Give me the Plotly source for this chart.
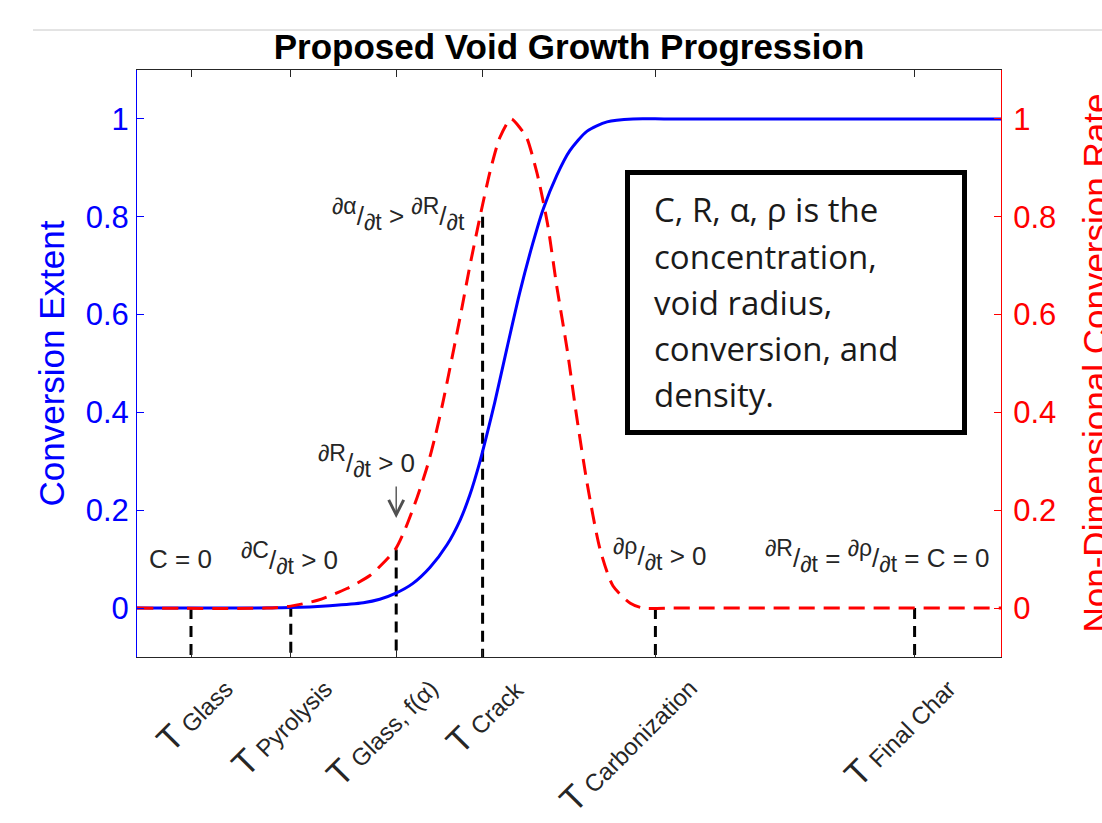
import plotly.graph_objects as go

# ---------------- data ----------------
# Conversion extent (blue, left axis)
x_extent = [0, 10, 17.8, 22.3, 26.2, 28.1, 29.9, 31.9, 33.9, 35.9, 37.4, 38.5, 39.7, 40.5,
            41.4, 42.8, 44.3, 45.8, 47.0, 48.6, 50.1, 52.1, 54.4, 57.4, 61, 66, 100]
y_extent = [0, 0, 0.001, 0.005, 0.011, 0.018, 0.03, 0.05, 0.083, 0.13, 0.18, 0.23, 0.30,
            0.355, 0.42, 0.53, 0.645, 0.745, 0.815, 0.885, 0.935, 0.975, 0.994, 1.0, 1.0,
            1.0, 1.0]

# Non-dimensional conversion rate (red dashed, right axis)
x_rate = [0, 15, 17.8, 20.9, 24.3, 27.0, 28.1, 29.9, 31.0, 32.4, 33.6, 34.5, 35.4, 37.4,
          38.5, 39.7, 40.9, 42.0, 43.3, 44.4, 45.1, 46.3, 47.5, 48.6, 49.8, 50.9, 52.1,
          53.6, 55.1, 57.1, 58.6, 62, 66, 100]
y_rate = [0, 0, 0.004, 0.016, 0.04, 0.067, 0.085, 0.12, 0.16, 0.225, 0.29, 0.35, 0.42,
          0.595, 0.697, 0.80, 0.895, 0.962, 1.0, 0.98, 0.962, 0.889, 0.787, 0.656, 0.527,
          0.39, 0.255, 0.12, 0.045, 0.01, 0.0, 0.0, 0.0, 0.0]

# Temperature markers (black dashed drop lines) and their labels
marker_x = [6.25, 17.8, 30.0, 40.0, 60.0, 90.0]
marker_top = [0.0, 0.005, 0.12, 0.8, 0.0, 0.0]
marker_labels = ["Glass", "Pyrolysis", "Glass, f(α)", "Crack", "Carbonization", "Final Char"]

y_ticks = [0, 0.2, 0.4, 0.6, 0.8, 1]
y_tick_text = ["0", "0.2", "0.4", "0.6", "0.8", "1"]

box_lines = ["C, R, α, ρ is the", "concentration,", "void radius,",
             "conversion, and", "density."]

# ---------------- figure ----------------
W, H = 1102, 823
ML, MR, MT, MB = 137, 101, 70, 166
PW, PH = W - ML - MR, H - MT - MB
Y0, Y1 = -0.1, 1.1

def px_x(px):
    return (px - ML) / PW

def px_y(py):
    return (H - MB - py) / PH

fig = go.Figure()

for xv, top in zip(marker_x, marker_top):
    fig.add_trace(go.Scatter(x=[xv, xv], y=[top, Y0], mode="lines",
                             line=dict(color="black", width=3, dash="11px,7px"),
                             showlegend=False, hoverinfo="skip"))

fig.add_trace(go.Scatter(x=x_extent, y=y_extent, mode="lines",
                         line=dict(color="#0000ff", width=3, shape="spline", smoothing=0.7),
                         showlegend=False))
fig.add_trace(go.Scatter(x=x_rate, y=y_rate, mode="lines", yaxis="y2",
                         line=dict(color="#ff0000", width=3, dash="16px,9px",
                                   shape="spline", smoothing=0.7),
                         showlegend=False))

FONT = "Arial, Liberation Sans, sans-serif"
TXT = "#262626"

def up(s):
    return f"<sup><span style='font-size:23px'>{s}</span></sup>"

def dn(s):
    return f"<sub><span style='font-size:23px'>{s}</span></sub>"

annotations = []
# rotated temperature labels under the axis
for xv, name in zip(marker_x, marker_labels):
    annotations.append(dict(x=xv, xref="x", y=0, yref="paper",
                            text=(f"<span style='font-size:35px'>T</span> "
                                  f"<span style='font-size:24px'>{name}</span>"),
                            showarrow=False,
                            textangle=-45, xanchor="right", yanchor="top",
                            xshift=51, yshift=-8,
                            font=dict(family=FONT, size=24, color=TXT)))

# in-plot labels
inplot = [
    ("C = 0", 5.0, 0.10),
    (up("∂C") + "/" + dn("∂t") + " > 0", 17.6, 0.103),
    (up("∂R") + "/" + dn("∂t") + " > 0", 26.6, 0.30),
    (up("∂α") + "/" + dn("∂t") + " > " + up("∂R") + "/" + dn("∂t"), 30.3, 0.805),
    (up("∂ρ") + "/" + dn("∂t") + " > 0", 60.5, 0.11),
    (up("∂R") + "/" + dn("∂t") + " = " + up("∂ρ") + "/" + dn("∂t") + " = C = 0", 85.7, 0.107),
]
for t, xv, yv in inplot:
    annotations.append(dict(x=xv, y=yv, xref="x", yref="y", text=t, showarrow=False,
                            xanchor="center", yanchor="middle",
                            font=dict(family=FONT, size=26, color=TXT)))

# small down arrow under dR/dt > 0
annotations.append(dict(x=30.0, y=0.184, xref="x", yref="y", text="", showarrow=True,
                        ax=0, ay=-33, arrowhead=5, arrowwidth=1.4, arrowsize=2.1,
                        arrowcolor="#505050", standoff=0))

# right axis title (partly outside the picture, as in the original)
annotations.append(dict(x=px_x(1095), y=0.5, xref="paper", yref="paper",
                        text="Non-Dimensional Conversion Rate", showarrow=False,
                        textangle=-90, xanchor="center", yanchor="middle",
                        font=dict(family=FONT, size=35, color="#ff0000")))

# text box
line_centers = [210, 256, 302, 348, 394]
for t, cy in zip(box_lines, line_centers):
    annotations.append(dict(x=px_x(652), y=px_y(cy), xref="paper", yref="paper",
                            text=t, showarrow=False, xanchor="left", yanchor="middle",
                            font=dict(family="Open Sans", size=33, color="#1a1a1a")))

shapes = [
    dict(type="rect", xref="paper", yref="paper",
         x0=px_x(627.5), x1=px_x(964.5), y0=px_y(432.5), y1=px_y(172.5),
         line=dict(color="black", width=5), fillcolor="white", layer="below"),
    dict(type="line", xref="paper", yref="paper",
         x0=px_x(33), x1=px_x(1102), y0=px_y(30), y1=px_y(30),
         line=dict(color="#c8c8c8", width=1)),
]

fig.update_layout(
    width=W, height=H,
    margin=dict(l=ML, r=MR, t=MT, b=MB, pad=0, autoexpand=False),
    paper_bgcolor="white", plot_bgcolor="rgba(0,0,0,0)",
    title=dict(text="<b>Proposed Void Growth Progression</b>", x=0.5, xref="paper",
               xanchor="center", y=1 - 47 / H, yref="container", yanchor="middle",
               font=dict(family=FONT, size=35, color="black"), automargin=False),
    xaxis=dict(range=[0, 100], showgrid=False, zeroline=False, showline=True,
               linecolor=TXT, linewidth=1, mirror="ticks", ticks="inside",
               tickvals=marker_x, ticklen=7, tickcolor=TXT, showticklabels=False,
               automargin=False),
    yaxis=dict(range=[Y0, Y1], showgrid=False, zeroline=False, showline=True,
               linecolor="#0000ff", linewidth=1, ticks="inside", ticklen=7,
               tickcolor="#0000ff", tickvals=y_ticks, ticktext=y_tick_text,
               tickfont=dict(family=FONT, size=31, color="#0000ff"),
               ticklabelstandoff=1, automargin=False,
               title=dict(text="Conversion Extent", standoff=10,
                          font=dict(family=FONT, size=35, color="#0000ff"))),
    yaxis2=dict(range=[Y0, Y1], overlaying="y", side="right", showgrid=False,
                zeroline=False, showline=True, linecolor="#ff0000", linewidth=1,
                ticks="inside", ticklen=7, tickcolor="#ff0000", tickvals=y_ticks,
                ticktext=y_tick_text, ticklabelstandoff=5, automargin=False,
                tickfont=dict(family=FONT, size=31, color="#ff0000")),
    annotations=annotations,
    shapes=shapes,
    showlegend=False,
)

fig.write_html("out.html")
